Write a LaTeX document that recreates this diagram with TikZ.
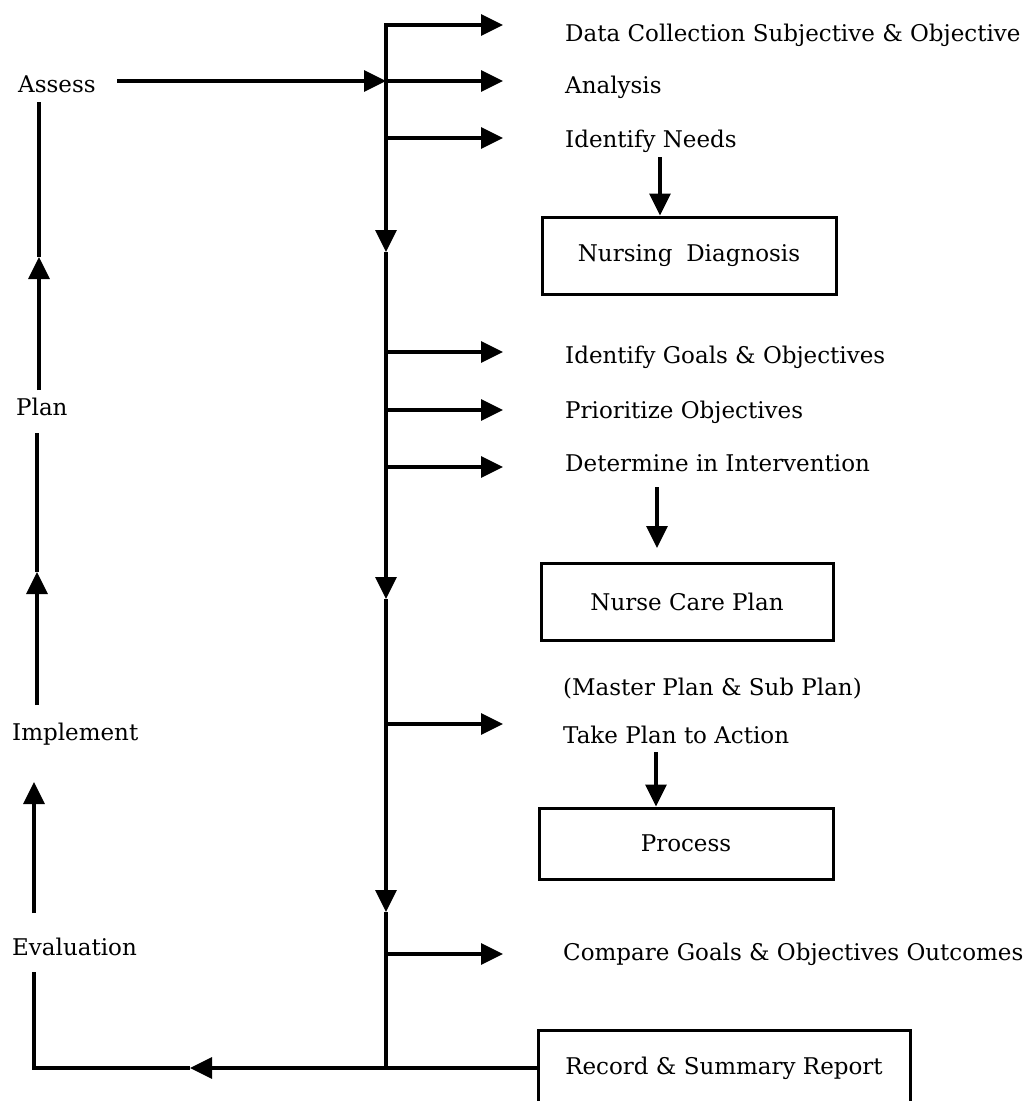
\documentclass[tikz,border=0pt]{standalone}
\usepackage{fontspec}
\setmainfont{DejaVu Serif}
\usetikzlibrary{arrows.meta}
\begin{document}
\begin{tikzpicture}[x=1pt,y=-1pt,
  every node/.style={font=\fontsize{23}{27}\selectfont},
  lbl/.style={anchor=base west, inner sep=0pt},
  box/.style={draw, line width=3pt, inner sep=0pt},
  ln/.style={line width=3.2pt},
  arr/.style={ln, -{Triangle[length=22pt,width=21pt]}},
]
\useasboundingbox (0,0) rectangle (1029,1101);

% left column labels
\node[lbl] (assess) at (18,92) {Assess};
\node[lbl] (plan) at (16,415) {Plan};
\node[lbl] (impl) at (12,740) {Implement};
\node[lbl] (eval) at (12,955) {Evaluation};

% right column labels
\node[lbl] (dc) at (565,41) {Data Collection Subjective \& Objective};
\node[lbl] (an) at (565,93) {Analysis};
\node[lbl] (idn) at (565,147) {Identify Needs};
\node[lbl] (igo) at (565,363) {Identify Goals \& Objectives};
\node[lbl] (pro) at (565,418) {Prioritize Objectives};
\node[lbl] (det) at (565,471) {Determine in Intervention};
\node[lbl] (msp) at (563,695) {(Master Plan \& Sub Plan)};
\node[lbl] (tpa) at (563,743) {Take Plan to Action};
\node[lbl] (cmp) at (563,960) {Compare Goals \& Objectives Outcomes};

% boxes
\node[box, minimum width=294pt, minimum height=77pt] (nd) at (689,255.5) {Nursing\hspace{0.6em}Diagnosis};
\node[box, minimum width=292pt, minimum height=77pt] (ncp) at (687,601.5) {Nurse Care Plan};
\node[box, minimum width=294pt, minimum height=71pt] (proc) at (686,843.5) {Process};
\node[box, minimum width=372pt, minimum height=76pt] (rec) at (724,1068) {Record \& Summary Report};

% main vertical line
\coordinate (m0) at (386,25);
\coordinate (m1) at (386,252);
\coordinate (m2) at (386,599);
\coordinate (m3) at (386,912);
\coordinate (m4) at (386,1068);
\draw[arr] (m0) -- (m1);
\draw[arr] (m1) -- (m2);
\draw[arr] (m2) -- (m3);
\draw[ln] (m3) -- (m4);

% branches
\coordinate (b1) at (386,81);
\coordinate (b2) at (386,138);
\coordinate (b3) at (386,352);
\coordinate (b4) at (386,410);
\coordinate (b5) at (386,467);
\coordinate (b6) at (386,724);
\coordinate (b7) at (386,954);
\coordinate (t0) at (503,25);
\coordinate (t1) at (503,81);
\coordinate (t2) at (503,138);
\coordinate (t3) at (503,352);
\coordinate (t4) at (503,410);
\coordinate (t5) at (503,467);
\coordinate (t6) at (503,724);
\coordinate (t7) at (503,954);
\draw[ln] (m0) -- ++(0,-1.6);
\draw[arr] ([xshift=-1.6pt]m0) -- (t0);
\draw[arr] (b1) -- (t1);
\draw[arr] (b2) -- (t2);
\draw[arr] (b3) -- (t3);
\draw[arr] (b4) -- (t4);
\draw[arr] (b5) -- (t5);
\draw[arr] (b6) -- (t6);
\draw[arr] (b7) -- (t7);

% Assess to main line
\coordinate (as0) at (117,81);
\draw[arr] (as0) -- (b1);

% down arrows to boxes
\coordinate (idn0) at (660,157);
\draw[arr] (idn0) -- (nd.north -| idn0);
\coordinate (det0) at (657,487);
\coordinate (det1) at (657,548);
\draw[arr] (det0) -- (det1);
\coordinate (tpa0) at (656,752);
\draw[arr] (tpa0) -- (proc.north -| tpa0);

% left cycle
\coordinate (pa0) at (39,390);
\coordinate (pa1) at (39,257);
\coordinate (pa2) at (39,102);
\draw[arr] (pa0) -- (pa1);
\draw[ln] (pa1) -- (pa2);
\coordinate (ip0) at (37,705);
\coordinate (ip1) at (37,572);
\coordinate (ip2) at (37,433);
\draw[arr] (ip0) -- (ip1);
\draw[ln] (ip1) -- (ip2);
\coordinate (ei0) at (34,913);
\coordinate (ei1) at (34,782);
\draw[arr] (ei0) -- (ei1);

% bottom return line
\coordinate (bl0) at (34,1068);
\coordinate (bl1) at (190,1068);
\coordinate (bl2) at (34,972);
\draw[arr] (rec.west) -- (bl1);
\draw[ln, line join=miter] (bl1) -- (bl0) -- (bl2);
\end{tikzpicture}
\end{document}
